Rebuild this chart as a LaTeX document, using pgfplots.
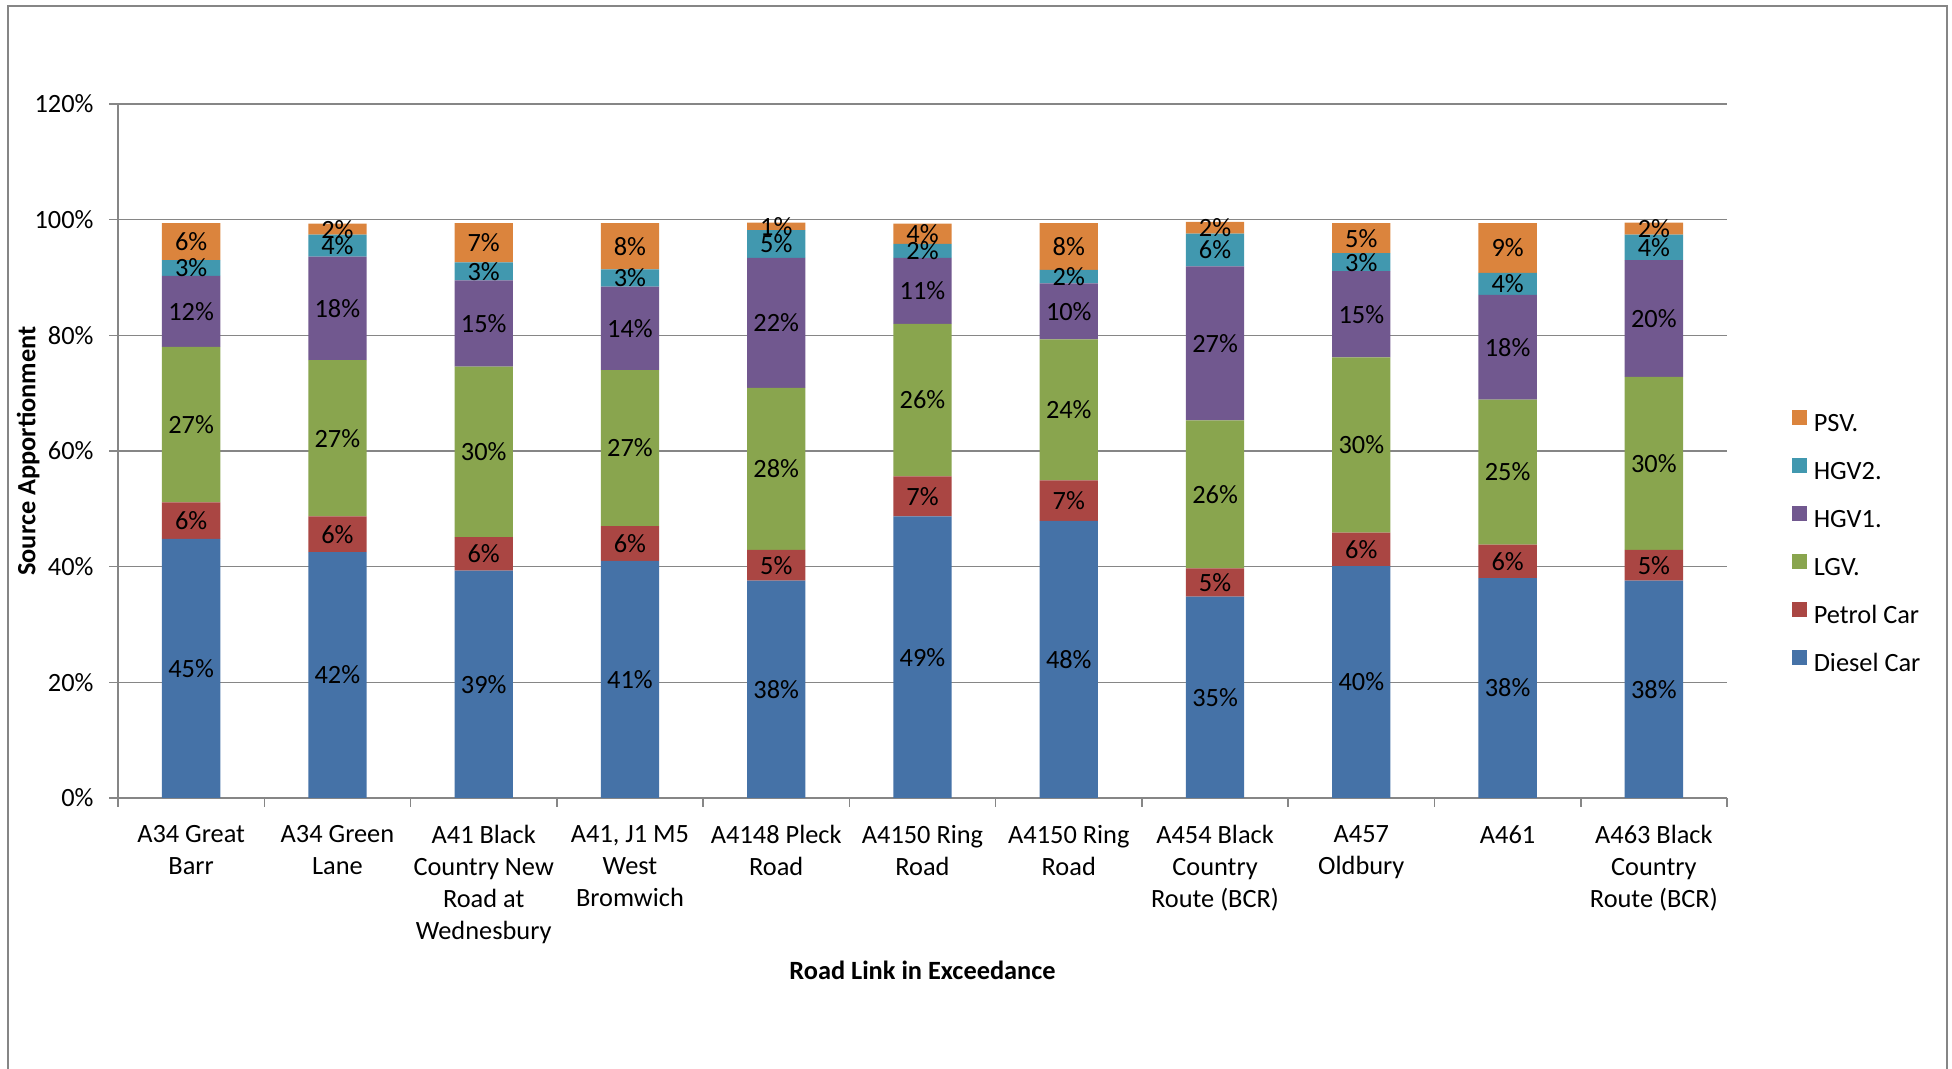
\documentclass[border=0pt]{standalone}
\usepackage{fontspec}
\setmainfont{Carlito}
\usepackage{pgfplots}
\pgfplotsset{compat=1.18}

\definecolor{diesel}{RGB}{69,114,167}
\definecolor{petrol}{RGB}{170,70,67}
\definecolor{lgv}{RGB}{137,165,78}
\definecolor{hgvone}{RGB}{113,88,143}
\definecolor{hgvtwo}{RGB}{65,152,175}
\definecolor{psv}{RGB}{219,132,61}
\definecolor{axisgrey}{RGB}{134,134,134}

\newcommand{\chartfont}{\fontsize{7.5}{9.1}\selectfont}

\begin{document}
\chartfont
\begin{tikzpicture}
\useasboundingbox (-11.8mm,-27.1mm) rectangle (183.4mm,79.8mm);
% outer chart frame
\draw[axisgrey, line width=0.25mm] (-11.0mm,-35mm) -- (-11.0mm,79.2mm) -- (182.9mm,79.2mm) -- (182.9mm,-35mm);

\begin{axis}[
  scale only axis,
  width=160.9mm, height=69.4mm,
  ybar stacked, bar width=5.83mm,
  xmin=-0.5, xmax=10.5, ymin=0, ymax=120,
  axis lines=left, axis line style={axisgrey, line width=0.15mm, -},
  ymajorgrids, grid style={axisgrey, line width=0.15mm},
  tick align=outside,
  major tick length=0.9mm,
  tick style={axisgrey, line width=0.15mm},
  ytick={0,20,...,120},
  yticklabels={0\%,20\%,40\%,60\%,80\%,100\%,120\%},
  yticklabel style={font=\chartfont, text=black, xshift=-0.6mm},
  xtick={-0.5,0.5,...,10.5},
  xticklabels={},
  extra x ticks={0,1,...,10},
  extra x tick style={major tick length=0pt, tick style={draw=none}},
  extra x tick labels={A34 Great\\Barr, A34 Green\\Lane, A41 Black\\Country New\\Road at\\Wednesbury, {A41, J1 M5\\West\\Bromwich}, A4148 Pleck\\Road, A4150 Ring\\Road, A4150 Ring\\Road, A454 Black\\Country\\Route (BCR), A457\\Oldbury, A461, A463 Black\\Country\\Route (BCR)},
  xticklabel style={font=\chartfont, text=black, align=center, yshift=-1.8mm},
  xlabel={\bfseries Road Link in Exceedance},
  xlabel style={font=\chartfont, at={(axis description cs:0.5,-0.249)}, anchor=center},
  ylabel={\bfseries Source Apportionment},
  ylabel style={font=\chartfont, at={(axis description cs:-0.0559,0.5)}, anchor=center},
  reverse legend,
  legend image code/.code={\fill[#1] (0mm,0mm) rectangle (1.5mm,1.5mm);},
  legend style={draw=none, fill=none, at={(1.0398,0.364)}, anchor=west,
    inner sep=0pt, row sep=0pt, font=\chartfont,
    nodes={inner sep=0pt, text height=3.0mm, text depth=1.8mm},
    /tikz/every odd column/.append style={column sep=0.7mm}},
  legend cell align=left,
]
\addplot[fill=diesel, draw=none] coordinates {
(0,44.8) (1,42.5) (2,39.3) (3,41.0) (4,37.6) (5,48.7) (6,47.9) (7,34.8) (8,40.1) (9,38.0) (10,37.6)};
\addplot[fill=petrol, draw=none] coordinates {
(0,6.3) (1,6.2) (2,5.8) (3,6.0) (4,5.3) (5,6.9) (6,7.0) (7,4.9) (8,5.8) (9,5.8) (10,5.3)};
\addplot[fill=lgv, draw=none] coordinates {
(0,26.9) (1,27.0) (2,29.5) (3,27.0) (4,28.0) (5,26.4) (6,24.4) (7,25.6) (8,30.3) (9,25.1) (10,29.9)};
\addplot[fill=hgvone, draw=none] coordinates {
(0,12.3) (1,17.9) (2,14.9) (3,14.4) (4,22.5) (5,11.4) (6,9.7) (7,26.6) (8,14.9) (9,18.1) (10,20.2)};
\addplot[fill=hgvtwo, draw=none] coordinates {
(0,2.7) (1,3.8) (2,3.1) (3,3.0) (4,4.8) (5,2.4) (6,2.3) (7,5.7) (8,3.1) (9,3.8) (10,4.4)};
\addplot[fill=psv, draw=none] coordinates {
(0,6.4) (1,1.9) (2,6.8) (3,8.0) (4,1.3) (5,3.5) (6,8.1) (7,2.0) (8,5.2) (9,8.6) (10,2.1)};
\legend{Diesel Car, Petrol Car, LGV., HGV1., HGV2., PSV.}
\end{axis}

% data labels at the middle of each segment
\begin{axis}[
  scale only axis,
  width=160.9mm, height=69.4mm,
  xmin=-0.5, xmax=10.5, ymin=0, ymax=120,
  hide axis, clip=false,
]
\addplot[draw=none, mark=none, nodes near coords, point meta=explicit symbolic,
  every node near coord/.append style={anchor=center, inner sep=0pt, text=black, font=\chartfont}]
coordinates {
(0,22.4)[45\%] (0,47.95)[6\%] (0,64.55)[27\%] (0,84.15)[12\%] (0,91.65)[3\%] (0,96.2)[6\%]
(1,21.25)[42\%] (1,45.6)[6\%] (1,62.2)[27\%] (1,84.65)[18\%] (1,95.5)[4\%] (1,98.35)[2\%]
(2,19.65)[39\%] (2,42.2)[6\%] (2,59.85)[30\%] (2,82.05)[15\%] (2,91.05)[3\%] (2,96.0)[7\%]
(3,20.5)[41\%] (3,44.0)[6\%] (3,60.5)[27\%] (3,81.2)[14\%] (3,89.9)[3\%] (3,95.4)[8\%]
(4,18.8)[38\%] (4,40.25)[5\%] (4,56.9)[28\%] (4,82.15)[22\%] (4,95.8)[5\%] (4,98.85)[1\%]
(5,24.35)[49\%] (5,52.15)[7\%] (5,68.8)[26\%] (5,87.7)[11\%] (5,94.6)[2\%] (5,97.55)[4\%]
(6,23.95)[48\%] (6,51.4)[7\%] (6,67.1)[24\%] (6,84.15)[10\%] (6,90.15)[2\%] (6,95.35)[8\%]
(7,17.4)[35\%] (7,37.25)[5\%] (7,52.5)[26\%] (7,78.6)[27\%] (7,94.75)[6\%] (7,98.6)[2\%]
(8,20.05)[40\%] (8,43.0)[6\%] (8,61.05)[30\%] (8,83.65)[15\%] (8,92.65)[3\%] (8,96.8)[5\%]
(9,19.0)[38\%] (9,40.9)[6\%] (9,56.35)[25\%] (9,77.95)[18\%] (9,88.9)[4\%] (9,95.1)[9\%]
(10,18.8)[38\%] (10,40.25)[5\%] (10,57.85)[30\%] (10,82.9)[20\%] (10,95.2)[4\%] (10,98.45)[2\%]
};
\end{axis}
\end{tikzpicture}
\end{document}
